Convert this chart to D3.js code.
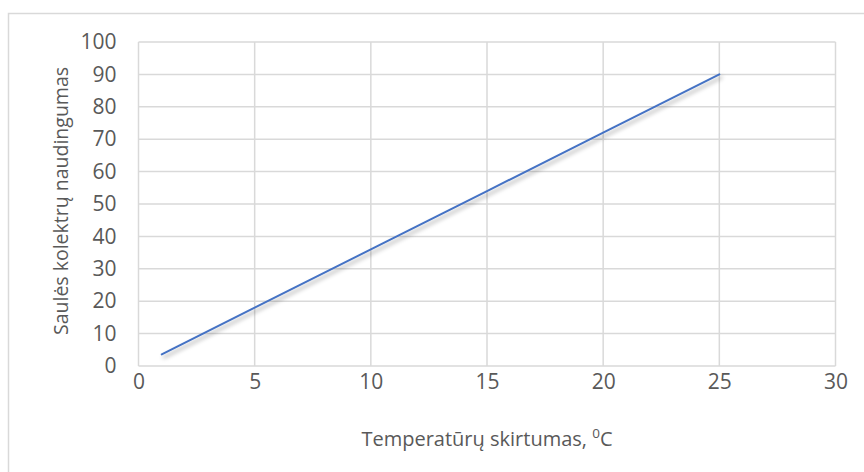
<!DOCTYPE html>
<html>
<head>
<meta charset="utf-8">
<script src="https://cdn.jsdelivr.net/npm/d3@7"></script>
<style>
  html, body { margin: 0; padding: 0; background: #fff; }
  svg { display: block; }
  text { font-family: "Open Sans", Lato, sans-serif; fill: #595959; }
</style>
</head>
<body>
<svg id="chart" width="864" height="472"></svg>
<script>
// Temperature difference (°C) and solar collector efficiency
const tempDiff = [1, 5, 10, 15, 20, 25];
const efficiency = [3.6, 18, 36, 54, 72, 90];
const xTicks = [0, 5, 10, 15, 20, 25, 30];
const yTicks = [0, 10, 20, 30, 40, 50, 60, 70, 80, 90, 100];

const svg = d3.select("#chart");
const W = 864, H = 472;
const plot = { left: 138.5, right: 835.5, top: 42, bottom: 366 };
const FONT = "'Open Sans', Lato, sans-serif";

// outer chart frame
svg.append("rect")
  .attr("x", 8.5).attr("y", 13.5)
  .attr("width", W + 10).attr("height", H + 10)
  .attr("fill", "#fff").attr("stroke", "#d9d9d9").attr("stroke-width", 1.5);

const x = d3.scaleLinear().domain([0, 30]).range([plot.left, plot.right]);
const y = d3.scaleLinear().domain([0, 100]).range([plot.bottom, plot.top]);

// drop shadow for the series line
const defs = svg.append("defs");
const f = defs.append("filter").attr("id", "shadow")
  .attr("x", "-10%").attr("y", "-10%").attr("width", "130%").attr("height", "130%");
f.append("feDropShadow").attr("dx", 2).attr("dy", 3).attr("stdDeviation", 2)
  .attr("flood-color", "#000").attr("flood-opacity", 0.35);

// gridlines
svg.append("g").selectAll("line").data(yTicks).join("line")
  .attr("x1", plot.left).attr("x2", plot.right)
  .attr("y1", d => y(d)).attr("y2", d => y(d))
  .attr("stroke", "#d9d9d9").attr("stroke-width", 1.5);
svg.append("g").selectAll("line").data(xTicks).join("line")
  .attr("y1", plot.top).attr("y2", plot.bottom)
  .attr("x1", d => x(d)).attr("x2", d => x(d))
  .attr("stroke", "#d9d9d9").attr("stroke-width", 1.5);

// axes (labels only, gridlines drawn above)
const xAxis = svg.append("g")
  .attr("transform", `translate(0,${plot.bottom})`)
  .call(d3.axisBottom(x).tickValues(xTicks).tickSize(0).tickPadding(8));
const yAxis = svg.append("g")
  .attr("transform", `translate(${plot.left},0)`)
  .call(d3.axisLeft(y).tickValues(yTicks).tickSize(0).tickPadding(22));
[xAxis, yAxis].forEach(g => {
  g.select(".domain").remove();
  g.selectAll("text").style("font-size", "21px")
    .style("font-family", FONT).attr("fill", "#595959");
});

// series line
const line = d3.line().x((d, i) => x(tempDiff[i])).y(d => y(d));
svg.append("path")
  .datum(efficiency)
  .attr("d", line)
  .attr("fill", "none")
  .attr("stroke", "#4472C4")
  .attr("stroke-width", 2)
  .attr("stroke-linecap", "round")
  .attr("filter", "url(#shadow)");

// axis titles
const xt = svg.append("text")
  .attr("x", (plot.left + plot.right) / 2).attr("y", 446)
  .attr("text-anchor", "middle").style("font-size", "20px");
xt.append("tspan").text("Temperatūrų skirtumas, ");
xt.append("tspan").attr("dy", -8).style("font-size", "13.5px").text("0");
xt.append("tspan").attr("dy", 8).text("C");

svg.append("text")
  .attr("transform", `translate(68,201) rotate(-90)`)
  .attr("text-anchor", "middle").style("font-size", "19.5px")
  .text("Saulės kolektrų naudingumas");
</script>
</body>
</html>
